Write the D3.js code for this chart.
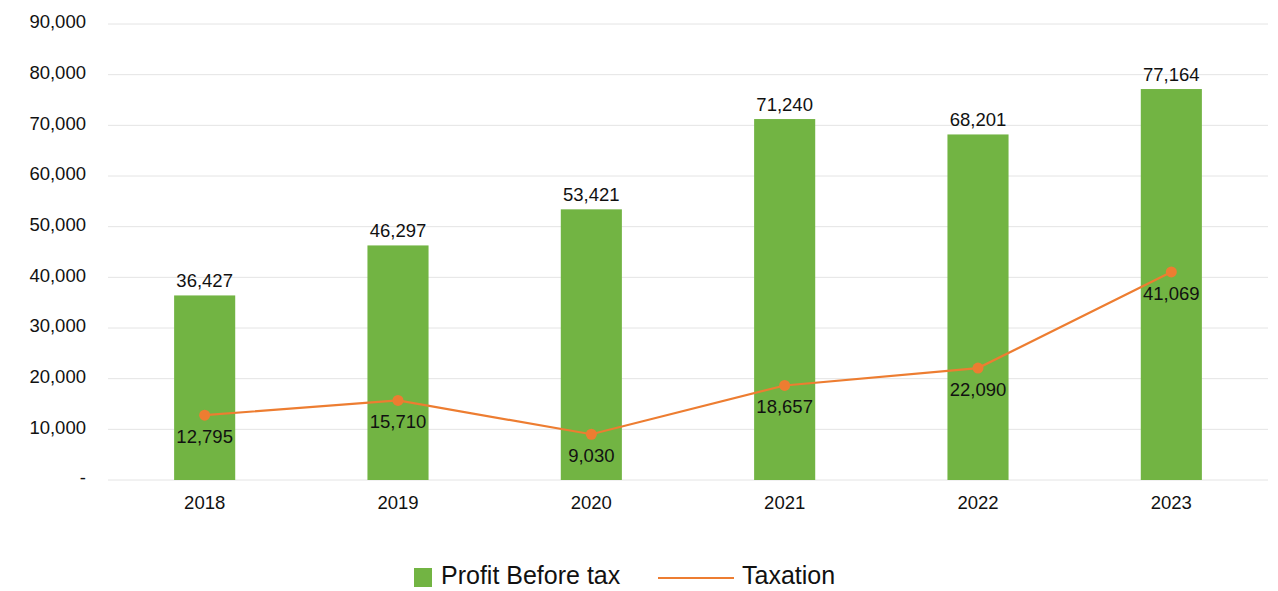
<!DOCTYPE html>
<html>
<head>
<meta charset="utf-8">
<script src="https://cdn.jsdelivr.net/npm/d3@7"></script>
<style>
  body { margin: 0; background: #fff; }
  text { font-family: "Liberation Sans", Arial, Helvetica, sans-serif; fill: #111; }
</style>
</head>
<body>
<svg width="1278" height="591"></svg>
<script>
const years = ["2018", "2019", "2020", "2021", "2022", "2023"];
const profitBeforeTax = [36427, 46297, 53421, 71240, 68201, 77164];
const taxation = [12795, 15710, 9030, 18657, 22090, 41069];
const yTicks = [0, 10000, 20000, 30000, 40000, 50000, 60000, 70000, 80000, 90000];
const seriesNames = ["Profit Before tax", "Taxation"];

const green = "#72b443",
    orange = "#ed7d31";

const chart = () => {
    var svg = d3.select("svg"),
        plotLeft = 108,
        plotRight = 1268,
        plotTop = 24,
        plotBottom = 480,
        fs = 18.5;

    var fmt = d3.format(",");

    var x = d3.scaleBand()
        .domain(years)
        .range([plotLeft, plotRight])
        .paddingInner(0.684)
        .paddingOuter(0.342);

    var y = d3.scaleLinear()
        .domain([0, 90000])
        .range([plotBottom, plotTop]);

    var cx = (d, i) => x(years[i]) + x.bandwidth() / 2;

    // gridlines
    svg.append("g")
        .selectAll("line")
        .data(yTicks)
        .enter().append("line")
        .attr("x1", plotLeft)
        .attr("x2", plotRight)
        .attr("y1", d => y(d))
        .attr("y2", d => y(d))
        .attr("stroke", "#e4e4e4")
        .attr("stroke-width", 1);

    // y axis labels
    var yAxis = d3.axisLeft(y)
        .tickValues(yTicks)
        .tickSize(0)
        .tickPadding(22)
        .tickFormat(d => d === 0 ? "-" : fmt(d));

    svg.append("g")
        .attr("transform", "translate(" + plotLeft + ",0)")
        .call(yAxis)
        .call(g => g.select(".domain").remove())
        .call(g => g.attr("font-family", null).attr("font-size", null))
        .selectAll("text")
        .attr("font-size", fs)
        .attr("dy", "0.2em");

    // x axis labels
    var xAxis = d3.axisBottom(x).tickSize(0).tickPadding(16);

    svg.append("g")
        .attr("transform", "translate(0," + plotBottom + ")")
        .call(xAxis)
        .call(g => g.select(".domain").remove())
        .call(g => g.attr("font-family", null).attr("font-size", null))
        .selectAll("text")
        .attr("font-size", fs);

    // bars
    svg.append("g")
        .selectAll("rect")
        .data(profitBeforeTax)
        .enter().append("rect")
        .attr("x", (d, i) => x(years[i]))
        .attr("y", d => y(d))
        .attr("width", x.bandwidth())
        .attr("height", d => y(0) - y(d))
        .attr("fill", green);

    svg.append("g")
        .selectAll("text")
        .data(profitBeforeTax)
        .enter().append("text")
        .attr("x", cx)
        .attr("y", d => y(d) - 8)
        .attr("text-anchor", "middle")
        .attr("font-size", fs)
        .text(d => fmt(d));

    // taxation line
    var line = d3.line()
        .x(cx)
        .y(d => y(d));

    svg.append("path")
        .datum(taxation)
        .attr("d", line)
        .attr("fill", "none")
        .attr("stroke", orange)
        .attr("stroke-width", 2.2);

    svg.append("g")
        .selectAll("circle")
        .data(taxation)
        .enter().append("circle")
        .attr("cx", cx)
        .attr("cy", d => y(d))
        .attr("r", 5.5)
        .attr("fill", orange);

    svg.append("g")
        .selectAll("text")
        .data(taxation)
        .enter().append("text")
        .attr("x", cx)
        .attr("y", d => y(d) + 28)
        .attr("text-anchor", "middle")
        .attr("font-size", fs)
        .text(d => fmt(d));

    // legend
    var legend = svg.append("g");

    legend.append("rect")
        .attr("x", 414)
        .attr("y", 568)
        .attr("width", 18)
        .attr("height", 19)
        .attr("fill", green);

    legend.append("text")
        .attr("x", 441)
        .attr("y", 584)
        .attr("font-size", 25)
        .text(seriesNames[0]);

    legend.append("line")
        .attr("x1", 658)
        .attr("x2", 734)
        .attr("y1", 578)
        .attr("y2", 578)
        .attr("stroke", orange)
        .attr("stroke-width", 2.2);

    legend.append("text")
        .attr("x", 742)
        .attr("y", 584)
        .attr("font-size", 25)
        .text(seriesNames[1]);
};

chart();
</script>
</body>
</html>
